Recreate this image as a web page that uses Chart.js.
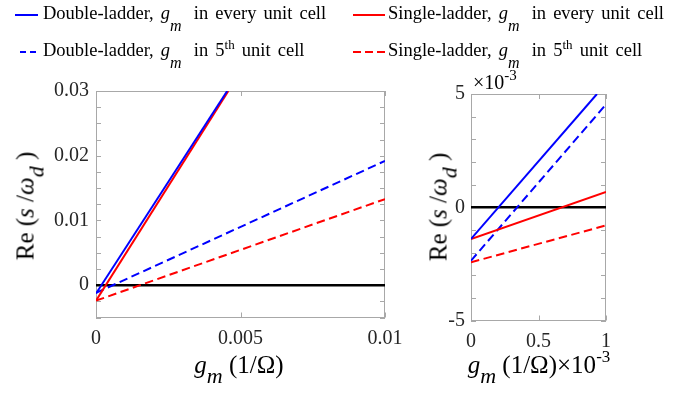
<!DOCTYPE html>
<html>
<head>
<meta charset="utf-8">
<script src="https://cdn.jsdelivr.net/npm/chart.js@4.4.1/dist/chart.umd.min.js"></script>
<style>
  html, body { margin: 0; padding: 0; background: #fff; }
  #page { position: relative; width: 691px; height: 394px; overflow: hidden;
          font-family: "Liberation Serif", "Times New Roman", serif; color: #000; }
  canvas { position: absolute; top: 0; }
  #wide { left: 0; }
  #zoom { left: 430px; }
  .lab { position: absolute; white-space: nowrap; line-height: 1; }
  .lab i { font-style: italic; }
  .sub, .sup { position: relative; }
  .leg { font-size: 18.5px; word-spacing: 2.5px; }
  .leg .sub { top: 12px; font-size: 16px; margin-right: 5px; }
  .leg .sup { top: -7px; font-size: 13px; }
  .key { position: absolute; height: 2px; }
  .ytitle { font-size: 25px; transform: translate(-50%, -50%) rotate(-90deg); }
  .xtitle { font-size: 25px; transform: translateX(-50%); }
</style>
</head>
<body>
<div id="page">
  <canvas id="wide" width="430" height="394"></canvas>
  <canvas id="zoom" width="261" height="394"></canvas>

  <!-- legend -->
  <div class="key" style="left:15px;top:14px;width:23px;background:#0000ff"></div>
  <div class="lab leg" style="left:43px;top:4px">Double-ladder, <i>g</i><i class="sub">m</i> in every unit cell</div>
  <div class="key" style="left:20px;top:51px;width:16px;background:repeating-linear-gradient(to right,#0000ff 0 6.5px,transparent 6.5px 9.8px)"></div>
  <div class="lab leg" style="left:43px;top:41px">Double-ladder, <i>g</i><i class="sub">m</i> in 5<span class="sup">th</span> unit cell</div>
  <div class="key" style="left:353px;top:14px;width:32px;background:#ff0000"></div>
  <div class="lab leg" style="left:388px;top:4px">Single-ladder, <i>g</i><i class="sub">m</i> in every unit cell</div>
  <div class="key" style="left:353px;top:51px;width:32px;background:repeating-linear-gradient(to right,#ff0000 0 8.5px,transparent 8.5px 11.8px)"></div>
  <div class="lab leg" style="left:388px;top:41px">Single-ladder, <i>g</i><i class="sub">m</i> in 5<span class="sup">th</span> unit cell</div>

  <!-- axis titles -->
  <div class="lab ytitle" style="left:25px;top:206px">Re (<i>s</i> /<i>ω</i><i class="sub" style="top:10px;font-size:22px">d</i> )</div>
  <div class="lab ytitle" style="left:438px;top:207px">Re (<i>s</i> /<i>ω</i><i class="sub" style="top:10px;font-size:22px">d</i> )</div>
  <div class="lab xtitle" style="left:239px;top:352px"><i>g</i><i class="sub" style="top:10px;font-size:22px">m</i> (1/Ω)</div>
  <div class="lab xtitle" style="left:539px;top:352px"><i>g</i><i class="sub" style="top:10px;font-size:22px">m</i> (1/Ω)×10<span class="sup" style="font-size:17px;top:-11px">-3</span></div>
  <div class="lab" style="left:473px;top:72px;font-size:20px">×10<span class="sup" style="font-size:15px;top:-9px">-3</span></div>
</div>

<script>
// Re(s/ω_d) vs g_m: full sweep on the left, first 1e-3 of g_m on the right

// full sweep, g_m in 1/Ω
const wideDoubleEveryX = [0, 0.00454];
const wideDoubleEveryY = [-0.0013, 0.03];
const wideSingleEveryX = [0, 0.00458];
const wideSingleEveryY = [-0.0024, 0.03];
const wideDoubleFifthX = [0, 0.01];
const wideDoubleFifthY = [-0.0012, 0.0192];
const wideSingleFifthX = [0, 0.01];
const wideSingleFifthY = [-0.0024, 0.0133];
const wideZeroX = [0, 0.01];
const wideXTicks = [0, 0.005, 0.01];
const wideYTicks = [0, 0.01, 0.02, 0.03];

// detail, both axes in units of 1e-3
const zoomDoubleEveryX = [0, 0.933];
const zoomDoubleEveryY = [-1.4, 5];
const zoomSingleEveryX = [0, 1];
const zoomSingleEveryY = [-1.4, 0.68];
const zoomDoubleFifthX = [0, 1];
const zoomDoubleFifthY = [-2.36, 4.54];
const zoomSingleFifthX = [0, 1];
const zoomSingleFifthY = [-2.43, -0.8];
const zoomZeroX = [0, 1];
const zoomXTicks = [0, 0.5, 1];
const zoomYTicks = [-5, 0, 5];

const zeroY = [0, 0];

const BLUE = '#0000ff', RED = '#ff0000';
const DASH = [8.5, 4.5];
const tickFont = { family: 'Liberation Serif', size: 20 };

const pts = (xs, ys) => xs.map((x, i) => ({ x, y: ys[i] }));
const line = (xs, ys, color, dashed, width) => ({
  data: pts(xs, ys),
  borderColor: color,
  borderWidth: width || 2,
  borderDash: dashed ? DASH : [],
  pointRadius: 0,
  tension: 0,
  fill: false
});

// box round the plot with inward ticks on all four sides
const frame = {
  id: 'frame',
  beforeDatasetsDraw(chart, args, opts) {
    const { ctx, chartArea: a, scales: { x, y } } = chart;
    const L = 5;
    ctx.save();
    ctx.strokeStyle = '#a8a8a8';
    ctx.lineWidth = 1;
    ctx.strokeRect(Math.round(a.left) + 0.5, Math.round(a.top) + 0.5,
                   Math.round(a.width) - 1, Math.round(a.height) - 1);
    ctx.beginPath();
    x.ticks.forEach(t => {
      const px = Math.round(x.getPixelForValue(t.value)) + 0.5;
      ctx.moveTo(px, a.bottom); ctx.lineTo(px, a.bottom - L);
      ctx.moveTo(px, a.top); ctx.lineTo(px, a.top + L);
    });
    opts.yMinor.forEach(v => {
      const py = Math.round(y.getPixelForValue(v)) + 0.5;
      ctx.moveTo(a.left, py); ctx.lineTo(a.left + L, py);
      ctx.moveTo(a.right, py); ctx.lineTo(a.right - L, py);
    });
    ctx.stroke();
    ctx.restore();
  }
};

function steps(min, max, step) {
  const out = [];
  for (let i = 0; min + i * step <= max + step / 1000; i++) out.push(+(min + i * step).toFixed(6));
  return out;
}

function makeChart(id, datasets, o) {
  return new Chart(document.getElementById(id), {
    type: 'line',
    data: { datasets },
    plugins: [frame],
    options: {
      responsive: false,
      animation: false,
      devicePixelRatio: 1,
      layout: { padding: { top: o.top, right: o.right, left: 0, bottom: 0 } },
      plugins: { legend: { display: false }, tooltip: { enabled: false },
                 frame: { yMinor: o.yMinor } },
      scales: {
        x: {
          type: 'linear', min: o.xMin, max: o.xMax,
          grid: { display: false, drawTicks: false }, border: { display: false },
          afterBuildTicks: s => { s.ticks = o.xTicks.map(v => ({ value: v })); },
          afterFit: s => { s.height = o.xHeight; },
          ticks: { font: tickFont, color: '#262626', padding: o.xPad, maxRotation: 0,
                   autoSkip: false, callback: v => String(v) }
        },
        y: {
          type: 'linear', min: o.yMin, max: o.yMax,
          grid: { display: false, drawTicks: false }, border: { display: false },
          afterBuildTicks: s => { s.ticks = o.yTicks.map(v => ({ value: v })); },
          afterFit: s => { s.width = o.yWidth; },
          ticks: { font: tickFont, color: '#262626', padding: o.yPad,
                   autoSkip: false, callback: v => String(v) }
        }
      }
    }
  });
}

makeChart('wide', [
  line(wideDoubleEveryX, wideDoubleEveryY, BLUE, false),
  line(wideSingleEveryX, wideSingleEveryY, RED, false),
  line(wideDoubleFifthX, wideDoubleFifthY, BLUE, true),
  line(wideSingleFifthX, wideSingleFifthY, RED, true),
  line(wideZeroX, zeroY, '#000000', false, 2.5)
], {
  top: 91, right: 45, yWidth: 96, xHeight: 76.5, xPad: 9, yPad: 7,
  xMin: 0, xMax: 0.01, yMin: -0.005, yMax: 0.03,
  xTicks: wideXTicks, yTicks: wideYTicks, yMinor: steps(-0.005, 0.03, 0.0025)
});

makeChart('zoom', [
  line(zoomDoubleEveryX, zoomDoubleEveryY, BLUE, false),
  line(zoomSingleEveryX, zoomSingleEveryY, RED, false),
  line(zoomDoubleFifthX, zoomDoubleFifthY, BLUE, true),
  line(zoomSingleFifthX, zoomSingleFifthY, RED, true),
  line(zoomZeroX, zeroY, '#000000', false, 2.5)
], {
  top: 94, right: 85, yWidth: 41, xHeight: 73.5, xPad: 9, yPad: 6,
  xMin: 0, xMax: 1, yMin: -5, yMax: 5,
  xTicks: zoomXTicks, yTicks: zoomYTicks, yMinor: steps(-5, 5, 1)
});
</script>
</body>
</html>
